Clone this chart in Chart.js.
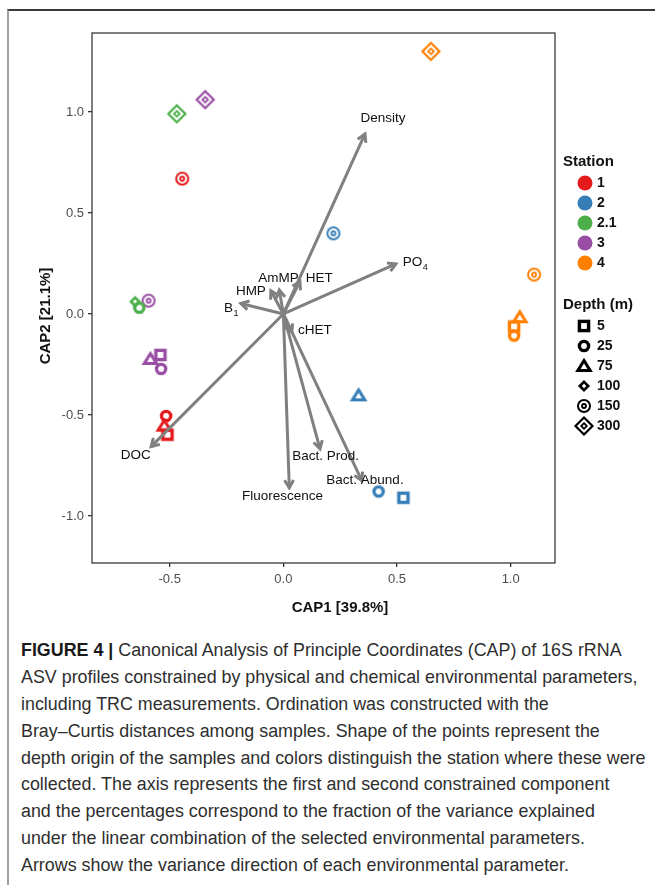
<!DOCTYPE html>
<html>
<head>
<meta charset="utf-8">
<script src="https://cdn.jsdelivr.net/npm/chart.js@4.4.1/dist/chart.umd.min.js"></script>
<style>
  html, body { margin: 0; padding: 0; background: #fff; }
  body { width: 655px; height: 885px; position: relative; overflow: hidden; font-family: "Liberation Sans", Arial, sans-serif; }
  #frame { position: absolute; left: 7px; top: 9px; width: 648px; height: 876px; border-top: 2px solid #3a3a3a; border-left: 2px solid #a0a0a0; box-sizing: border-box; }
  #plot { position: absolute; left: 0; top: 0; width: 655px; height: 630px; }
  #caption { position: absolute; left: 21px; top: 637px; color: #2e2e2e; }
  #caption div { height: 26.9px; line-height: 26.9px; white-space: nowrap; }
  #caption b { font-weight: bold; color: #1a1a1a; }
</style>
</head>
<body>
<div id="frame"></div>
<div id="plot"><canvas id="cap"></canvas></div>
<div id="caption"></div>
<script>
// ---- Stations (colour) and sampling depths (shape) ----
const stations = ['1', '2', '2.1', '3', '4'];
const stationColors = ['#E41A1C', '#377EB8', '#4DAF4A', '#984EA3', '#FF7F00'];
const depths = ['5', '25', '75', '100', '150', '300'];

// ---- Sample scores on the two constrained axes, one set per station ----
const st1Depth = ['150', '25', '75', '5'];
const st1Cap1  = [-0.445, -0.516, -0.524, -0.510];
const st1Cap2  = [0.670, -0.505, -0.553, -0.598];

const st2Depth = ['150', '75', '25', '5'];
const st2Cap1  = [0.220, 0.331, 0.419, 0.528];
const st2Cap2  = [0.399, -0.403, -0.879, -0.910];

const st21Depth = ['300', '100', '25'];
const st21Cap1  = [-0.469, -0.652, -0.634];
const st21Cap2  = [0.991, 0.061, 0.031];

const st3Depth = ['300', '150', '75', '5', '25'];
const st3Cap1  = [-0.344, -0.593, -0.585, -0.541, -0.538];
const st3Cap2  = [1.061, 0.066, -0.223, -0.203, -0.272];

const st4Depth = ['300', '150', '75', '5', '25'];
const st4Cap1  = [0.649, 1.103, 1.040, 1.015, 1.015];
const st4Cap2  = [1.300, 0.195, -0.016, -0.062, -0.107];

// ---- Environmental vectors (arrow tips) and their label anchors ----
const envVars     = ['Density', 'PO4', 'AmMP', 'HET', 'HMP', 'B1', 'cHET', 'DOC', 'Fluorescence', 'Bact. Prod.', 'Bact. Abund.'];
const envSubs     = ['', '4', '', '', '', '1', '', '', '', '', ''];
const envCap1     = [0.359, 0.495, -0.018, 0.073, -0.055, -0.187, 0.037, -0.582, 0.026, 0.161, 0.345];
const envCap2     = [0.891, 0.248, 0.119, 0.161, 0.115, 0.052, -0.091, -0.657, -0.861, -0.668, -0.825];
const envLabCap1  = [0.438, 0.579, -0.022, 0.158, -0.143, -0.230, 0.139, -0.649, -0.004, 0.186, 0.359];
const envLabCap2  = [0.967, 0.254, 0.178, 0.178, 0.110, 0.026, -0.083, -0.701, -0.903, -0.706, -0.822];

// ---- Axis ticks ----
const cap1Ticks = [-0.5, 0.0, 0.5, 1.0];
const cap2Ticks = [-1.0, -0.5, 0.0, 0.5, 1.0];

// ---- Caption ----
const captionHead = 'FIGURE 4 |';
const captionLines = [
  ' Canonical Analysis of Principle Coordinates (CAP) of 16S rRNA',
  'ASV profiles constrained by physical and chemical environmental parameters,',
  'including TRC measurements. Ordination was constructed with the',
  'Bray\u2013Curtis distances among samples. Shape of the points represent the',
  'depth origin of the samples and colors distinguish the station where these were',
  'collected. The axis represents the first and second constrained component',
  'and the percentages correspond to the fraction of the variance explained',
  'under the linear combination of the selected environmental parameters.',
  'Arrows show the variance direction of each environmental parameter.'
];

const FONT = '"Liberation Sans", Arial, sans-serif';

// Draw one depth symbol centred on (cx, cy)
function drawShape(g, depth, color, cx, cy) {
  g.save();
  g.strokeStyle = color;
  g.fillStyle = color;
  g.lineJoin = 'miter';
  g.beginPath();
  switch (depth) {
    case '5':
      g.lineWidth = 3.4;
      g.strokeRect(cx - 4.6, cy - 4.6, 9.2, 9.2);
      break;
    case '25':
      g.lineWidth = 3.4;
      g.arc(cx, cy, 4.6, 0, Math.PI * 2);
      g.stroke();
      break;
    case '75':
      g.lineWidth = 3;
      g.moveTo(cx, cy - 5.5);
      g.lineTo(cx + 6.2, cy + 4.6);
      g.lineTo(cx - 6.2, cy + 4.6);
      g.closePath();
      g.stroke();
      break;
    case '100':
      g.lineWidth = 2.6;
      g.moveTo(cx, cy - 4.2);
      g.lineTo(cx + 4.2, cy);
      g.lineTo(cx, cy + 4.2);
      g.lineTo(cx - 4.2, cy);
      g.closePath();
      g.stroke();
      break;
    case '150':
      g.lineWidth = 2;
      g.arc(cx, cy, 6, 0, Math.PI * 2);
      g.stroke();
      g.beginPath();
      g.lineWidth = 1.8;
      g.arc(cx, cy, 2, 0, Math.PI * 2);
      g.stroke();
      break;
    case '300':
      g.lineWidth = 2.2;
      g.moveTo(cx, cy - 8.5);
      g.lineTo(cx + 8.5, cy);
      g.lineTo(cx, cy + 8.5);
      g.lineTo(cx - 8.5, cy);
      g.closePath();
      g.stroke();
      g.beginPath();
      g.lineWidth = 1.8;
      g.moveTo(cx, cy - 2.8);
      g.lineTo(cx + 2.8, cy);
      g.lineTo(cx, cy + 2.8);
      g.lineTo(cx - 2.8, cy);
      g.closePath();
      g.stroke();
      break;
  }
  g.restore();
}

// Symbol images used as Chart.js point styles
function markerImage(depth, color) {
  const c = document.createElement('canvas');
  c.width = 26; c.height = 26;
  drawShape(c.getContext('2d'), depth, color, 13, 13);
  return c;
}

const samples = [
  { depth: st1Depth, cap1: st1Cap1, cap2: st1Cap2 },
  { depth: st2Depth, cap1: st2Cap1, cap2: st2Cap2 },
  { depth: st21Depth, cap1: st21Cap1, cap2: st21Cap2 },
  { depth: st3Depth, cap1: st3Cap1, cap2: st3Cap2 },
  { depth: st4Depth, cap1: st4Cap1, cap2: st4Cap2 }
];

const datasets = [];
envVars.forEach((name, i) => {
  datasets.push({
    type: 'line',
    label: name,
    data: [{ x: 0, y: 0 }, { x: envCap1[i], y: envCap2[i] }],
    borderColor: '#808080',
    borderWidth: 3,
    borderCapStyle: 'butt',
    pointRadius: 0,
    showLine: true,
    fill: false,
    tension: 0,
    order: 0
  });
});
samples.forEach((s, k) => {
  const imgs = {};
  depths.forEach(d => { imgs[d] = markerImage(d, stationColors[k]); });
  datasets.push({
    type: 'scatter',
    label: stations[k],
    data: s.cap1.map((x, i) => ({ x: x, y: s.cap2[i] })),
    pointStyle: s.depth.map(d => imgs[d]),
    pointRadius: 6,
    order: 1
  });
});

const overlay = {
  id: 'overlay',
  afterDatasetsDraw(chart) {
    const { ctx, scales: { x, y } } = chart;
    const ox = x.getPixelForValue(0), oy = y.getPixelForValue(0);
    // open arrow heads
    ctx.save();
    ctx.strokeStyle = '#808080';
    ctx.lineWidth = 3;
    ctx.lineJoin = 'miter';
    ctx.lineCap = 'butt';
    envVars.forEach((n, i) => {
      const tx = x.getPixelForValue(envCap1[i]), ty = y.getPixelForValue(envCap2[i]);
      const ang = Math.atan2(ty - oy, tx - ox);
      const len = 9, spread = Math.PI / 6;
      ctx.beginPath();
      ctx.moveTo(tx - len * Math.cos(ang - spread), ty - len * Math.sin(ang - spread));
      ctx.lineTo(tx, ty);
      ctx.lineTo(tx - len * Math.cos(ang + spread), ty - len * Math.sin(ang + spread));
      ctx.stroke();
    });
    ctx.restore();
    // vector labels
    ctx.save();
    ctx.fillStyle = '#111';
    ctx.textBaseline = 'middle';
    ctx.textAlign = 'left';
    envVars.forEach((n, i) => {
      const cx = x.getPixelForValue(envLabCap1[i]), cy = y.getPixelForValue(envLabCap2[i]);
      const sub = envSubs[i];
      const base = sub ? n.slice(0, n.length - sub.length) : n;
      ctx.font = '13.5px ' + FONT;
      const wb = ctx.measureText(base).width;
      ctx.font = '9px ' + FONT;
      const ws = sub ? ctx.measureText(sub).width : 0;
      const x0 = cx - (wb + ws) / 2;
      ctx.font = '13.5px ' + FONT;
      ctx.fillText(base, x0, cy);
      if (sub) {
        ctx.font = '9px ' + FONT;
        ctx.fillText(sub, x0 + wb + 0.5, cy + 5);
      }
    });
    ctx.restore();
  },
  afterDraw(chart) {
    const { ctx, chartArea: a } = chart;
    ctx.save();
    // panel frame
    ctx.strokeStyle = '#3a3a3a';
    ctx.lineWidth = 1.3;
    ctx.strokeRect(a.left, a.top, a.right - a.left, a.bottom - a.top);
    // axis titles
    ctx.fillStyle = '#111';
    ctx.font = 'bold 15px ' + FONT;
    ctx.textAlign = 'center';
    ctx.textBaseline = 'middle';
    ctx.fillText('CAP1 [39.8%]', 340, 608);
    ctx.save();
    ctx.translate(46, 316);
    ctx.rotate(-Math.PI / 2);
    ctx.fillText('CAP2 [21.1%]', 0, 0);
    ctx.restore();
    // legend: station colours
    ctx.textAlign = 'left';
    ctx.font = 'bold 15px ' + FONT;
    ctx.fillText('Station', 563, 162);
    stations.forEach((s, i) => {
      const yy = 183 + i * 20;
      ctx.beginPath();
      ctx.fillStyle = stationColors[i];
      ctx.arc(585, yy, 7.5, 0, Math.PI * 2);
      ctx.fill();
      ctx.fillStyle = '#111';
      ctx.font = 'bold 14px ' + FONT;
      ctx.fillText(s, 597, yy + 0.5);
    });
    // legend: depth shapes
    ctx.font = 'bold 15px ' + FONT;
    ctx.fillText('Depth (m)', 563, 305);
    depths.forEach((d, i) => {
      const yy = 326 + i * 20;
      drawShape(ctx, d, '#000', 584, yy);
      ctx.fillStyle = '#111';
      ctx.font = 'bold 14px ' + FONT;
      ctx.fillText(d, 597, yy + 0.5);
    });
    ctx.restore();
  }
};

new Chart(document.getElementById('cap'), {
  type: 'scatter',
  data: { datasets: datasets },
  options: {
    responsive: true,
    maintainAspectRatio: false,
    animation: false,
    events: [],
    layout: { padding: { left: 0, right: 100, top: 33, bottom: 37 } },
    plugins: { legend: { display: false }, tooltip: { enabled: false } },
    scales: {
      x: {
        type: 'linear',
        min: -0.842,
        max: 1.195,
        afterBuildTicks: s => { s.ticks = cap1Ticks.map(v => ({ value: v })); },
        afterFit: s => { s.height = 30; },
        grid: { display: true, drawOnChartArea: false, drawTicks: true, tickLength: 4, color: '#333', lineWidth: 1.3 },
        border: { display: false },
        ticks: { color: '#4d4d4d', font: { size: 13, family: FONT }, padding: 5, autoSkip: false, callback: v => v.toFixed(1) }
      },
      y: {
        type: 'linear',
        min: -1.233,
        max: 1.391,
        afterBuildTicks: s => { s.ticks = cap2Ticks.map(v => ({ value: v })); },
        afterFit: s => { s.width = 92; },
        grid: { display: true, drawOnChartArea: false, drawTicks: true, tickLength: 4, color: '#333', lineWidth: 1.3 },
        border: { display: false },
        ticks: { color: '#4d4d4d', font: { size: 13, family: FONT }, padding: 4, autoSkip: false, callback: v => v.toFixed(1) }
      }
    }
  },
  plugins: [overlay]
});

// Caption text, sized so the longest line spans the text column
(function () {
  const probe = document.createElement('canvas').getContext('2d');
  probe.font = '100px ' + FONT;
  const size = 100 * 625 / probe.measureText(captionLines[4]).width;
  const box = document.getElementById('caption');
  box.style.fontSize = size.toFixed(2) + 'px';
  captionLines.forEach((t, i) => {
    const row = document.createElement('div');
    if (i === 0) {
      const b = document.createElement('b');
      b.textContent = captionHead;
      row.appendChild(b);
    }
    row.appendChild(document.createTextNode(t));
    box.appendChild(row);
  });
})();
</script>
</body>
</html>
